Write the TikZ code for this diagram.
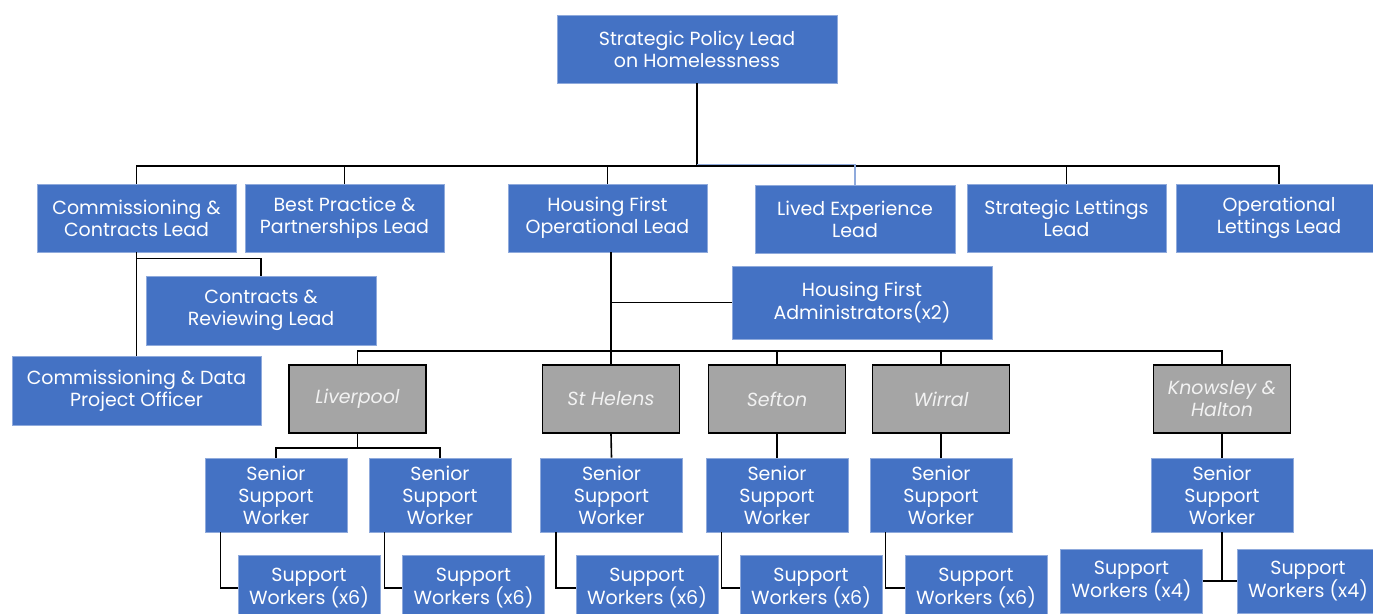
\documentclass[tikz,border=0pt]{standalone}
\usepackage{fontspec}
\setmainfont{Poppins}
\usetikzlibrary{calc}

\definecolor{unitblue}{HTML}{4472C4}
\definecolor{unitedge}{HTML}{8FAADC}
\definecolor{areagrey}{HTML}{A5A5A5}
\definecolor{areatext}{HTML}{F2F2F2}

\begin{document}
\begin{tikzpicture}[
    x=1pt, y=-1pt,
    unit/.style={draw=unitedge, line width=0.8pt, fill=unitblue, text=white, align=center, inner sep=0pt,
        font=\fontsize{19}{22}\selectfont, minimum width=199pt, minimum height=68pt},
    area/.style={draw=black, line width=1.8pt, fill=areagrey, text=areatext, align=center, inner sep=0pt,
        font=\fontsize{19}{22}\selectfont\itshape, minimum width=137pt, minimum height=68pt},
    senior/.style={unit, minimum width=142pt, minimum height=74pt},
    worker/.style={unit, minimum width=142pt, minimum height=66pt},
    link/.style={draw=black, line width=1.6pt},
    lightlink/.style={draw=unitedge, line width=1.4pt}
]
\useasboundingbox (0,0) rectangle (1373,613);

% -------------------------
% TOP AND LEADS
% -------------------------
\node[unit, minimum width=280pt] (Top) at (697,49) {Strategic Policy Lead\\on Homelessness};

\node[unit] (CommLead) at (136.5,218) {Commissioning \&\\Contracts Lead};
\node[unit] (BestPrac) at (344.5,218) {Best Practice \&\\Partnerships Lead};
\node[unit] (HFOpLead) at (607.5,218) {Housing First\\Operational Lead};
\node[unit, minimum width=200pt] (LivedExp) at (855,219) {Lived Experience\\Lead};
\node[unit] (StratLet) at (1066.5,218) {Strategic Lettings\\Lead};
\node[unit, minimum width=206pt] (OpLet) at (1279,218) {Operational\\Lettings Lead};

% commissioning branch
\node[unit, minimum width=230pt, minimum height=69pt] (ContRev) at (261,310.5) {Contracts \&\\Reviewing Lead};
\node[unit, minimum width=249pt, minimum height=69pt] (DataOff) at (136.5,390.5) {Commissioning \& Data\\Project Officer};

% housing first branch
\node[unit, minimum width=260pt, minimum height=73pt] (Admin) at (862,302.5) {Housing First\\Administrators(x2)};

% -------------------------
% AREAS
% -------------------------
\node[area] (Liverpool) at (357.5,399) {Liverpool};
\node[area] (StHelens) at (611,399) {St Helens};
\node[area] (Sefton) at (777,399) {Sefton};
\node[area] (Wirral) at (941,399) {Wirral};
\node[area] (Knowsley) at (1222,399) {Knowsley \&\\Halton};

% -------------------------
% SENIOR SUPPORT WORKERS
% -------------------------
\node[senior] (SSWLiv1) at (276,495) {Senior\\Support\\Worker};
\node[senior] (SSWLiv2) at (440,495) {Senior\\Support\\Worker};
\node[senior] (SSWStH) at (611.5,495) {Senior\\Support\\Worker};
\node[senior] (SSWSef) at (777,495) {Senior\\Support\\Worker};
\node[senior] (SSWWir) at (941,495) {Senior\\Support\\Worker};
\node[senior] (SSWKno) at (1222,495) {Senior\\Support\\Worker};

% -------------------------
% SUPPORT WORKERS
% -------------------------
\node[worker] (SWLiv1) at (309,588) {Support\\Workers (x6)};
\node[worker] (SWLiv2) at (473.5,588) {Support\\Workers (x6)};
\node[worker] (SWStH) at (647,588) {Support\\Workers (x6)};
\node[worker] (SWSef) at (811,588) {Support\\Workers (x6)};
\node[worker] (SWWir) at (976,588) {Support\\Workers (x6)};
\node[worker, minimum height=64pt] (SWKno1) at (1131.5,581) {Support\\Workers (x4)};
\node[worker, minimum height=64pt] (SWKno2) at (1308,581) {Support\\Workers (x4)};

% -------------------------
% CONNECTORS
% -------------------------
\coordinate (BusA) at (697,166);
\coordinate (BusB) at (611,351);

% top bus
\draw[link] (Top.south) -- (BusA);
\draw[link] (CommLead.north) |- (OpLet.north |- BusA) -- (OpLet.north);
\foreach \n in {BestPrac, HFOpLead, StratLet}
    \draw[link] (\n.north) -- (\n.north |- BusA);
\draw[lightlink] ([yshift=1.5pt]Top.south |- BusA) -| (LivedExp.north);

% commissioning branch
\draw[link] (CommLead.south) -- (DataOff.north);
\draw[link] ([yshift=-6pt]CommLead.south) -| (ContRev.north);

% housing first branch
\draw[link] (StHelens.north) -- (StHelens.north |- HFOpLead.south);
\draw[link] (Admin.west) -- (Admin.west -| StHelens.north);

% area bus
\draw[link] (Liverpool.north) |- (Knowsley.north |- BusB) -- (Knowsley.north);
\foreach \n in {Sefton, Wirral}
    \draw[link] (\n.north) -- (\n.north |- BusB);

% areas to seniors
\draw[link] (Liverpool.south) -- ++(0,14);
\draw[link] (SSWLiv1.north) |- ([yshift=-14pt]Liverpool.south) -| (SSWLiv2.north);
\foreach \a/\s in {StHelens/SSWStH, Sefton/SSWSef, Wirral/SSWWir, Knowsley/SSWKno}
    \draw[link] (\a.south) -- (\s.north);

% seniors to workers
\foreach \s/\w in {SSWLiv1/SWLiv1, SSWLiv2/SWLiv2, SSWStH/SWStH, SSWSef/SWSef, SSWWir/SWWir}
    \draw[link] ([xshift=16pt]\s.south west) |- (\w.west);
\draw[link] (SSWKno.south) -- (SSWKno.south |- SWKno1.east);
\draw[link] (SWKno1.east) -- (SWKno2.west);

\end{tikzpicture}
\end{document}
